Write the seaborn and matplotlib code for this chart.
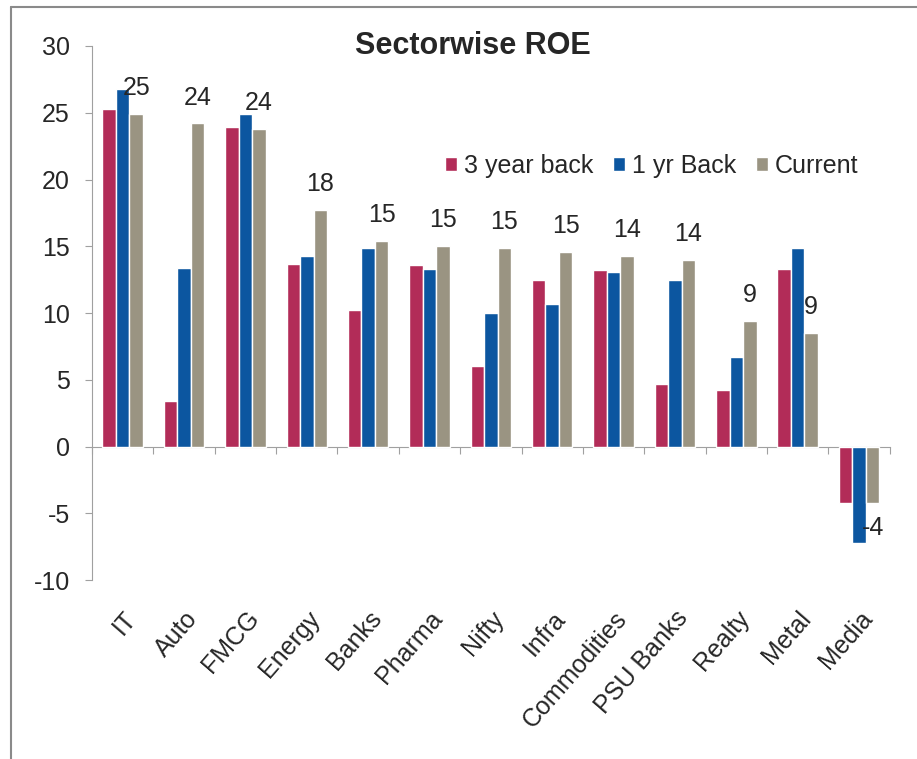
import pandas as pd
import numpy as np
import seaborn as sns
import matplotlib.pyplot as plt
from matplotlib.lines import Line2D

sns.set_style('white')
plt.rcParams['font.family'] = ['Liberation Sans', 'DejaVu Sans']
plt.rcParams['axes.unicode_minus'] = False

# data
sectors = ['IT', 'Auto', 'FMCG', 'Energy', 'Banks', 'Pharma', 'Nifty', 'Infra',
           'Commodities', 'PSU Banks', 'Realty', 'Metal', 'Media']
three_year_back = [25.3, 3.4, 23.9, 13.7, 10.2, 13.6, 6.0, 12.5, 13.2, 4.7, 4.2, 13.3, -4.2]
one_yr_back = [26.8, 13.4, 24.9, 14.3, 14.9, 13.3, 10.0, 10.7, 13.1, 12.5, 6.7, 14.9, -7.2]
current = [24.9, 24.2, 23.8, 17.7, 15.4, 15.0, 14.9, 14.6, 14.3, 14.0, 9.4, 8.5, -4.2]
current_labels = ['25', '24', '24', '18', '15', '15', '15', '15', '14', '14', '9', '9', '-4']

series = ['3 year back', '1 yr Back', 'Current']
colors = {'3 year back': '#B22C58', '1 yr Back': '#0C56A0', 'Current': '#9A9482'}

df = pd.DataFrame({
    'Sector': sectors * 3,
    'Series': [series[0]] * 13 + [series[1]] * 13 + [series[2]] * 13,
    'ROE': three_year_back + one_yr_back + current,
})

fig = plt.figure(figsize=(9.17, 7.59), dpi=100)
ax = fig.add_axes([0.1003, 0.2358, 0.870, 0.7036])

sns.barplot(data=df, x='Sector', y='ROE', hue='Series', hue_order=series,
            palette=colors, order=sectors, width=0.66, gap=0, errorbar=None,
            saturation=1, ax=ax)

ax.set_ylim(-10, 30)
ax.set_xlim(-0.5, 12.5)
ax.set_yticks(range(-10, 31, 5))
ax.set_xlabel('')
ax.set_ylabel('')

# value labels on the Current bars
ax.bar_label(ax.containers[2], labels=current_labels, padding=10, fontsize=18)

# spines
for s in ['top', 'right', 'bottom']:
    ax.spines[s].set_visible(False)
ax.spines['left'].set_color('#A0A0A0')
ax.tick_params(axis='y', which='major', direction='out', length=5, color='#A0A0A0',
               labelsize=18, pad=11, left=True)
ax.tick_params(axis='x', length=0, labelsize=18, pad=19)
plt.setp(ax.get_xticklabels(), rotation=49, ha='right', va='top', rotation_mode='anchor')

# zero line with tick marks between sectors
zero = ax.secondary_xaxis(10 / 40)
zero.spines['bottom'].set_color('#A0A0A0')
zero.set_xticks(np.arange(-0.5, 13, 1))
zero.set_xticklabels([])
zero.tick_params(direction='out', length=5, color='#A0A0A0')

ax.text(0.477, 1.0, 'Sectorwise ROE', transform=ax.transAxes, ha='center', va='center',
        fontsize=22, fontweight='bold')

leg = ax.legend(loc='center', bbox_to_anchor=(0.702, 0.775), ncol=3, frameon=False,
                fontsize=18, handlelength=0.45, handleheight=0.5, handletextpad=0.3,
                columnspacing=0.8, borderpad=0)

# outer frame
fig.add_artist(Line2D([0.012, 1], [0.991, 0.991], transform=fig.transFigure,
                      color='#8A8A8A', lw=1.5))
fig.add_artist(Line2D([0.012, 0.012], [0, 0.991], transform=fig.transFigure,
                      color='#8A8A8A', lw=1.5))

fig.savefig('out.png', dpi=100)
